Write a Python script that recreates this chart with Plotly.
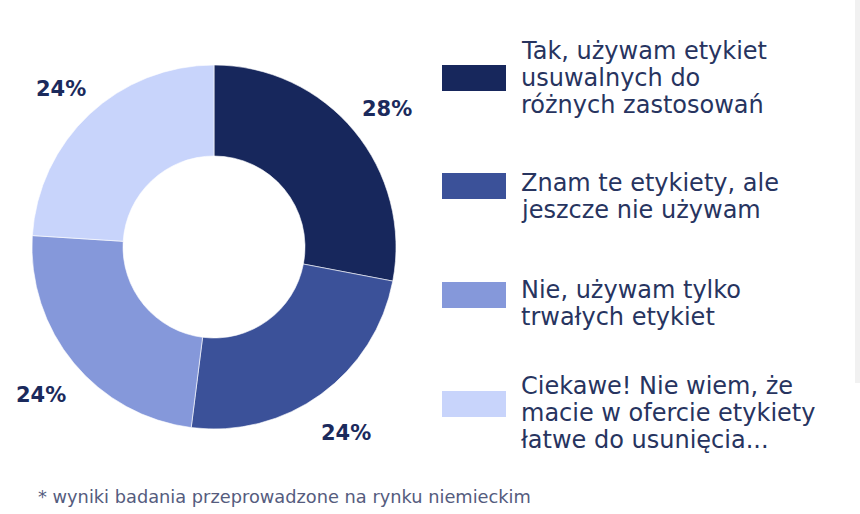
import math
import plotly.graph_objects as go

# ---- data ----
categories = [
    ["Tak, używam etykiet", "usuwalnych do", "różnych zastosowań"],
    ["Znam te etykiety, ale", "jeszcze nie używam"],
    ["Nie, używam tylko", "trwałych etykiet"],
    ["Ciekawe! Nie wiem, że", "macie w ofercie etykiety", "łatwe do usunięcia..."],
]
values = [28, 24, 24, 24]
colors = ["#17275c", "#3b5199", "#8598da", "#c8d4fb"]
footnote = "* wyniki badania przeprowadzone na rynku niemieckim"

W, H = 860, 514
cx, cy, R = 214, 247, 182          # donut centre / radius in px
label_r = 224                       # radius of percentage labels in px
label_color = "#1b2a5c"
text_color = "#27345f"
font_family = "DejaVu Sans, Verdana, sans-serif"

fig = go.Figure()
fig.add_trace(go.Pie(
    labels=[" ".join(c) for c in categories],
    values=values,
    hole=0.5,
    sort=False,
    direction="clockwise",
    rotation=0,
    marker=dict(colors=colors, line=dict(color="rgba(255,255,255,0.6)", width=1)),
    textinfo="none",
    hoverinfo="label+percent",
    showlegend=False,
    domain=dict(x=[(cx - R) / W, (cx + R) / W], y=[1 - (cy + R) / H, 1 - (cy - R) / H]),
))

annotations = []
shapes = []
# percentage labels around the donut, at each slice's mid-angle
total = sum(values)
cum = 0
for v in values:
    mid = (cum + v / 2) / total * 2 * math.pi
    cum += v
    px = cx + label_r * math.sin(mid)
    py = cy - label_r * math.cos(mid) + 5
    annotations.append(dict(
        x=px / W, y=1 - py / H, xref="paper", yref="paper",
        text=f"<b>{round(v / total * 100)}%</b>", showarrow=False,
        xanchor="center", yanchor="middle",
        font=dict(size=21, color=label_color, family=font_family),
    ))

# custom legend
swatch_x0, swatch_x1 = 442, 506
swatch_centers = [78, 186, 295, 404]
first_line_centers = [51, 183, 290, 386]
line_step = 27
for lines, col, sc, fc in zip(categories, colors, swatch_centers, first_line_centers):
    shapes.append(dict(
        type="rect", xref="paper", yref="paper",
        x0=swatch_x0 / W, x1=swatch_x1 / W,
        y0=1 - (sc + 13) / H, y1=1 - (sc - 13) / H,
        fillcolor=col, line=dict(width=0),
    ))
    for i, line in enumerate(lines):
        annotations.append(dict(
            x=519 / W, y=1 - (fc + i * line_step) / H, xref="paper", yref="paper",
            text=line, showarrow=False, xanchor="left", yanchor="middle", align="left",
            font=dict(size=24, color=text_color, family=font_family),
        ))

# footnote
annotations.append(dict(
    x=36 / W, y=1 - 496 / H, xref="paper", yref="paper",
    text=footnote, showarrow=False, xanchor="left", yanchor="middle",
    font=dict(size=17.8, color="#555c7e", family=font_family),
))

# faint grey strip at right edge
shapes.append(dict(type="rect", xref="paper", yref="paper",
                   x0=855 / W, x1=1, y0=1 - 383 / H, y1=1,
                   fillcolor="#f1f1f1", line=dict(width=0), layer="below"))

fig.update_layout(
    width=W, height=H,
    margin=dict(l=0, r=0, t=0, b=0),
    paper_bgcolor="white",
    plot_bgcolor="white",
    annotations=annotations,
    shapes=shapes,
)
fig.write_html("out.html")
